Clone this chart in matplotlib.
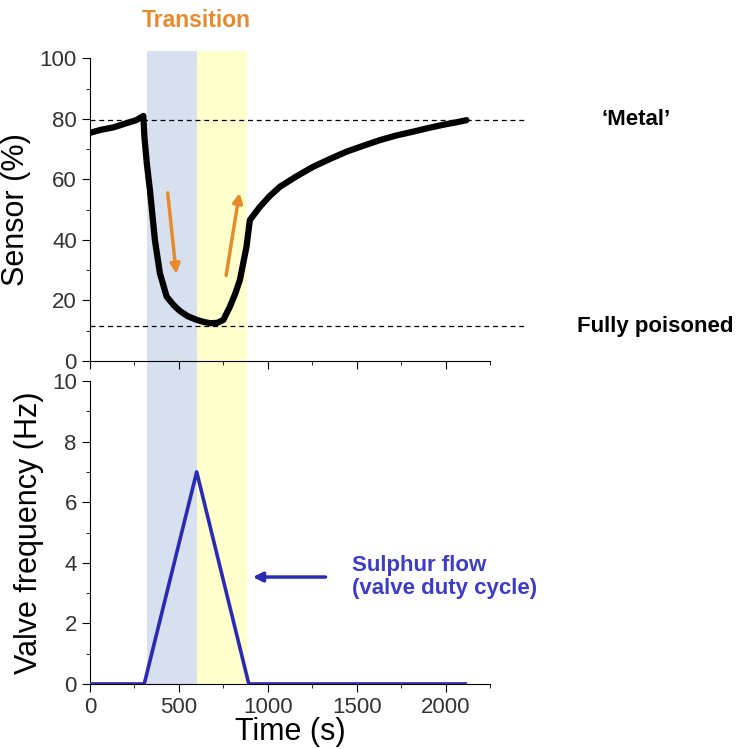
import matplotlib
matplotlib.use('Agg')
import matplotlib.pyplot as plt

plt.rcParams['font.family'] = ['Liberation Sans', 'DejaVu Sans']

# sensor signal
t_sensor = [0, 60, 131, 200, 260, 300, 306, 320, 337, 365, 393, 431, 470, 506, 550,
            600, 640, 675, 715, 750, 787, 815, 843, 880, 899, 930, 956, 1010, 1068,
            1160, 1255, 1350, 1443, 1540, 1630, 1720, 1817, 1910, 2005, 2070, 2117]
v_sensor = [75.4, 76.4, 77.2, 78.5, 79.6, 81.0, 74.0, 65.0, 56.5, 40.0, 29.0, 21.3,
            18.5, 16.5, 14.8, 13.6, 12.9, 12.5, 12.6, 13.6, 18.0, 22.0, 26.8, 37.8,
            46.6, 49.0, 51.0, 54.5, 57.6, 61.0, 64.2, 66.8, 69.2, 71.2, 73.0, 74.5,
            75.8, 77.1, 78.3, 79.0, 79.6]

# valve frequency
t_valve = [0, 305, 600, 893, 2110]
f_valve = [0, 0, 7, 0, 0]

metal_level = 79.5
poisoned_level = 11.5
blue_span = (320, 600)
yellow_span = (600, 885)

fig = plt.figure(figsize=(7.55, 7.49), dpi=100)
ax2 = fig.add_axes([0.1192, 0.0868, 0.530, 0.4045])
ax1 = fig.add_axes([0.1192, 0.518, 0.530, 0.404])

blue_c = '#d6e0ee'
yellow_c = '#ffffcc'
orange = '#e8892b'
navy = '#2a2ab4'

for ax in (ax1, ax2):
    ax.spines['top'].set_visible(False)
    ax.spines['right'].set_visible(False)
    ax.set_xlim(0, 2250)
    ax.set_xticks([0, 500, 1000, 1500, 2000])
    ax.set_xticks(range(250, 2251, 500), minor=True)
    ax.tick_params(axis='both', which='major', labelsize=16, length=6,
                   labelcolor='#333333')
    ax.tick_params(axis='both', which='minor', length=3)
    ax.patch.set_alpha(0)

# shading, continuous through the gap between the panels
ax1.axvspan(*blue_span, ymin=0, ymax=1.026, color=blue_c, clip_on=False, zorder=0, lw=0)
ax1.axvspan(*yellow_span, ymin=0, ymax=1.026, color=yellow_c, clip_on=False, zorder=0, lw=0)
ax2.axvspan(*blue_span, ymin=0, ymax=1.07, color=blue_c, clip_on=False, zorder=0, lw=0)
ax2.axvspan(*yellow_span, ymin=0, ymax=1.07, color=yellow_c, clip_on=False, zorder=0, lw=0)

# top panel
ax1.set_ylim(0, 100)
ax1.set_yticks([0, 20, 40, 60, 80, 100])
ax1.set_yticks(range(10, 100, 20), minor=True)
ax1.set_xticklabels([])
ax1.plot(t_sensor, v_sensor, color='black', lw=4.5, solid_capstyle='round', zorder=3)
ax1.plot([0, 2445], [metal_level, metal_level], ls='--', color='black', lw=0.9,
         dashes=(4, 3), clip_on=False, zorder=2)
ax1.plot([0, 2445], [poisoned_level, poisoned_level], ls='--', color='black', lw=0.9,
         dashes=(4, 3), clip_on=False, zorder=2)
ax1.set_ylabel('Sensor (%)', fontsize=22, labelpad=6)

ax1.annotate('', xy=(487, 27.9), xytext=(435, 56.5),
             arrowprops=dict(arrowstyle='-|>', color=orange, lw=2.5, mutation_scale=14))
ax1.annotate('', xy=(843, 56.5), xytext=(763, 27.4),
             arrowprops=dict(arrowstyle='-|>', color=orange, lw=2.5, mutation_scale=14))

ax1.text(600, 112.5, 'Transition', color=orange, fontsize=16.5, fontweight='bold',
         ha='center', va='center', clip_on=False)
ax1.text(3070, metal_level + 0.3, '\u2018Metal\u2019', fontsize=16, fontweight='bold',
         ha='center', va='center', clip_on=False)
ax1.text(2740, poisoned_level, 'Fully poisoned', fontsize=16, fontweight='bold',
         ha='left', va='center', clip_on=False)

# bottom panel
ax2.set_ylim(0, 10)
ax2.set_yticks([0, 2, 4, 6, 8, 10])
ax2.set_yticks(range(1, 10, 2), minor=True)
ax2.plot(t_valve, f_valve, color=navy, lw=2.6, zorder=3)
ax2.set_ylabel('Valve frequency (Hz)', fontsize=22, labelpad=6)
ax2.set_xlabel('Time (s)', fontsize=22, labelpad=-1)

ax2.annotate('', xy=(900, 3.53), xytext=(1340, 3.53),
             arrowprops=dict(arrowstyle='-|>', color=navy, lw=2.5, mutation_scale=14))
ax2.text(1475, 3.53, 'Sulphur flow\n(valve duty cycle)', color='#3c3cc8', fontsize=16,
         fontweight='bold', ha='left', va='center', linespacing=1.15, clip_on=False)

fig.savefig('out.png', dpi=100)
